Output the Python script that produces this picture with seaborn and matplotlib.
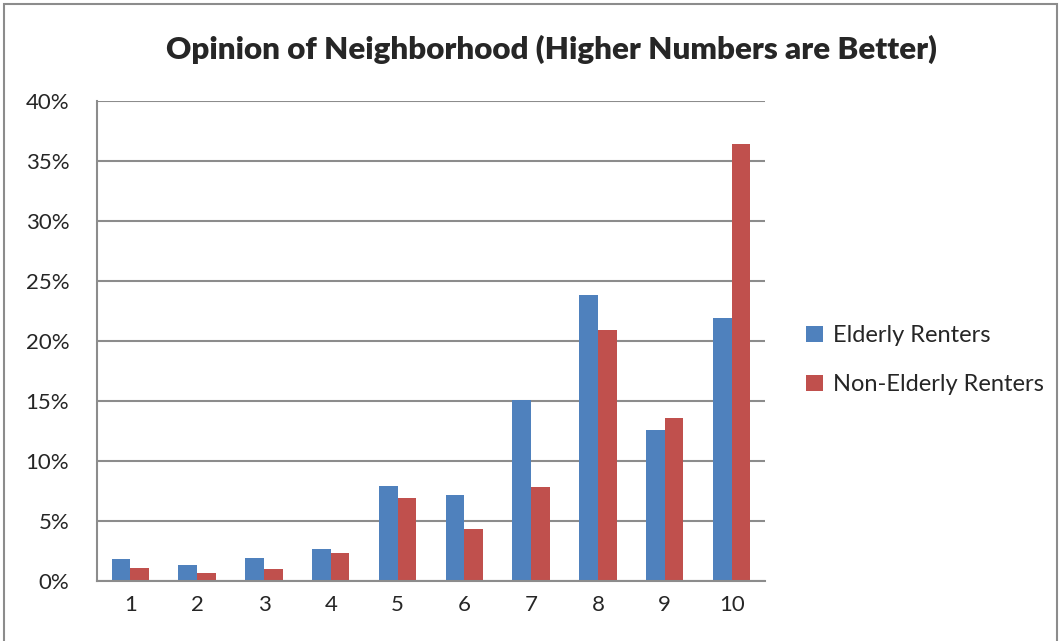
import pandas as pd
import matplotlib.pyplot as plt
import matplotlib.ticker as mticker
from matplotlib.patches import Rectangle
import seaborn as sns

# 数据：评分 1-10，每组所占比例（%）
ratings = ['1', '2', '3', '4', '5', '6', '7', '8', '9', '10']
elderly = [1.8, 1.3, 1.9, 2.7, 7.9, 7.2, 15.1, 23.8, 12.6, 21.9]
non_elderly = [1.1, 0.7, 1.0, 2.3, 6.9, 4.3, 7.8, 20.9, 13.6, 36.4]
groups = ['Elderly Renters', 'Non-Elderly Renters']

df = pd.DataFrame({
    'rating': ratings * 2,
    'share': [v / 100 for v in elderly + non_elderly],
    'group': [groups[0]] * len(ratings) + [groups[1]] * len(ratings),
})

sns.set_style('white')
plt.rcParams['font.family'] = ['Lato', 'DejaVu Sans']

fig = plt.figure(figsize=(10.61, 6.41), dpi=100)
ax = fig.add_axes([0.0914, 0.0936, 0.6296, 0.7488])

sns.barplot(data=df, x='rating', y='share', hue='group', order=ratings,
            hue_order=groups, palette=['#4F81BD', '#C0504D'], width=0.56,
            saturation=1, edgecolor='none', ax=ax)

# 坐标轴设置
ax.set_ylim(0, 0.40)
ax.set_xlim(-0.5, len(ratings) - 0.5)
ax.yaxis.set_major_locator(mticker.MultipleLocator(0.05))
ax.yaxis.set_major_formatter(mticker.PercentFormatter(1.0, decimals=0))
ax.grid(axis='y', color='#8c8c8c', lw=1.5)
ax.set_axisbelow(True)
ax.set_xlabel('')
ax.set_ylabel('')

ax.tick_params(axis='x', which='major', length=0, labelsize=16, pad=10)
ax.set_xticks([i + 0.5 for i in range(-1, len(ratings))], minor=True)
ax.tick_params(axis='x', which='minor', length=7, width=1.5, color='#8c8c8c')
ax.tick_params(axis='y', length=6, width=1.5, color='#8c8c8c', labelsize=16, pad=14)

for s in ['top', 'right']:
    ax.spines[s].set_visible(False)
for s in ['left', 'bottom']:
    ax.spines[s].set_color('#8c8c8c')
    ax.spines[s].set_linewidth(1.5)

fig.suptitle('Opinion of Neighborhood (Higher Numbers are Better)',
             fontsize=22.5, fontweight='heavy', x=0.52, y=0.945)

ax.legend(loc='center left', bbox_to_anchor=(1.03, 0.46), frameon=False,
          fontsize=17, labelspacing=1.2, handlelength=0.7, handleheight=0.7,
          handletextpad=0.45)

# 外框
fig.patches.append(Rectangle((4 / 1061, -0.05), 1053 / 1061, 1.05 - 4 / 641,
                             transform=fig.transFigure, fill=False,
                             edgecolor='#8c8c8c', lw=1.5))

plt.savefig('out.png', dpi=100)
